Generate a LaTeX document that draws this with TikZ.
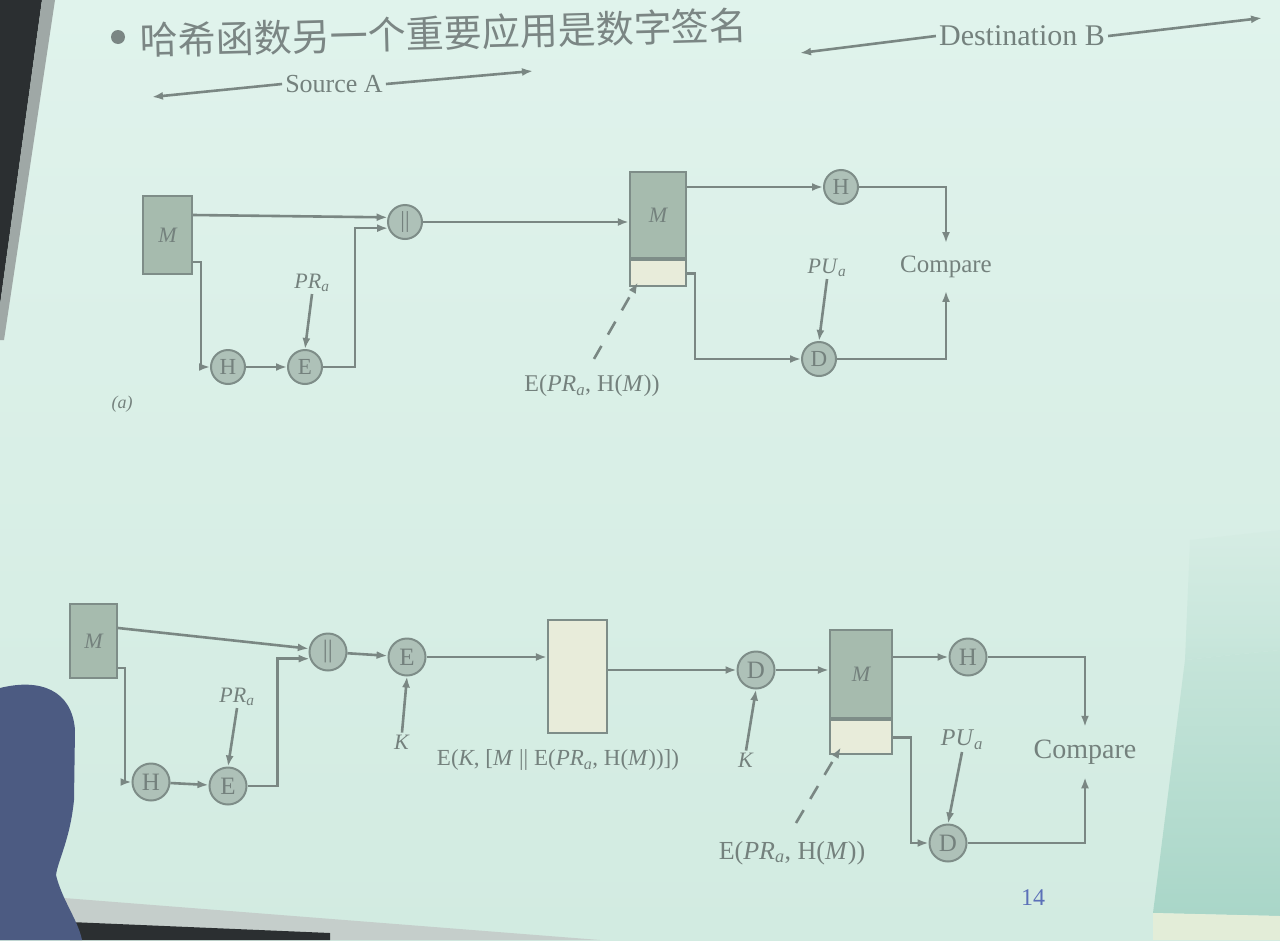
\documentclass[tikz,border=0pt]{standalone}
\usepackage{fontspec}
\setmainfont{Liberation Serif}
\newfontfamily\cjk{Noto Sans CJK SC}
\usetikzlibrary{arrows.meta,calc}
\definecolor{slidebg}{HTML}{D6EDE4}
\definecolor{slidetop}{HTML}{E0F3EC}
\definecolor{slidebot}{HTML}{D2EBE1}
\definecolor{linec}{HTML}{7A8783}
\definecolor{nodeb}{HTML}{7E8D88}
\definecolor{nodef}{HTML}{AEC1B8}
\definecolor{msgf}{HTML}{A6BBAE}
\definecolor{sigf}{HTML}{E8ECDA}
\definecolor{txt}{HTML}{74817D}
\definecolor{titlec}{HTML}{7B8684}
\definecolor{pagec}{HTML}{5B70B8}
\definecolor{framec}{HTML}{2B2F31}
\definecolor{edgec}{HTML}{9FA8A6}
\definecolor{headc}{HTML}{4C5B82}
\definecolor{cornerc}{HTML}{A9D6C8}
\definecolor{bandc}{HTML}{C5CECB}
\definecolor{warmc}{HTML}{E3EDD8}
\begin{document}
\begin{tikzpicture}[x=1pt,y=-1pt,
  arr/.style={draw=linec, line width=2.6pt, -{Latex[length=11pt,width=8pt]}},
  leader/.style={arr, dash pattern=on 15pt off 13pt},
  op/.style={circle, draw=nodeb, fill=nodef, line width=2pt, minimum size=34pt,
    inner sep=0pt, font=\fontsize{23}{23}\selectfont, text=txt},
  opb/.style={op, minimum size=37pt, font=\fontsize{25}{25}\selectfont},
  msgbox/.style={draw=nodeb, fill=msgf, line width=2.2pt, inner sep=0pt,
    font=\fontsize{22}{22}\selectfont\itshape, text=txt},
  sigbox/.style={draw=nodeb, fill=sigf, line width=2.2pt, inner sep=0pt},
  lbl/.style={font=\fontsize{22}{22}\selectfont, text=txt, inner sep=2pt},
  hdr/.style={font=\fontsize{26}{26}\selectfont, text=txt, inner sep=3pt},
  cmp/.style={font=\fontsize{25}{25}\selectfont, text=txt, inner sep=3pt, outer sep=10pt}
]
\useasboundingbox (0,0) rectangle (1280,940);
\clip (0,0) rectangle (1280,940);

% slide surface and surroundings
\shade[top color=slidetop, bottom color=slidebot] (0,0) rectangle (1280,940);
\fill[framec] (0,0) -- (42,0) -- (0,305) -- cycle;
\fill[edgec] (42,0) -- (55,0) -- (4,340) -- (0,340) -- (0,305) -- cycle;
\shade[top color=slidebot, bottom color=cornerc, opacity=0.35]
  (1190,540) -- (1280,530) -- (1280,650) -- (1185,660) -- cycle;
\shade[top color=slidebot!70!cornerc, bottom color=cornerc]
  (1185,660) -- (1280,650) -- (1280,916) -- (1153,913) -- cycle;
\fill[bandc] (0,893) -- (600,940) -- (0,940) -- cycle;
\fill[framec] (70,922) -- (330,933) -- (330,940) -- (70,940) -- cycle;
\fill[warmc] (1153,913) -- (1280,916) -- (1280,940) -- (1153,940) -- cycle;
\fill[headc] (0,688) .. controls (40,678) and (72,690) .. (75,730)
  -- (74,800) .. controls (70,840) and (58,860) .. (56,875)
  .. controls (62,900) and (78,920) .. (82,940) -- (0,940) -- cycle;

% slide title
\fill[titlec] (118,37) circle (7);
\node[anchor=base west, inner sep=0pt, rotate=1.5, text=titlec,
  font=\cjk\fontsize{38}{38}\selectfont] (title) at (140,55)
  {哈希函数另一个重要应用是数字签名};

% party headers
\node[hdr] (srcA) at (334,84) {Source A};
\coordinate (srcL) at (152,97);
\coordinate (srcR) at (533,71);
\draw[arr] (srcA.west) -- (srcL);
\draw[arr] (srcA.east) -- (srcR);
\node[hdr, font=\fontsize{30}{30}\selectfont] (dstB) at (1022,36) {Destination B};
\coordinate (dstL) at (800,53);
\coordinate (dstR) at (1262,18);
\draw[arr] (dstB.west) -- (dstL);
\draw[arr] (dstB.east) -- (dstR);

% ---------------- (a) ----------------
\node[msgbox, minimum width=49pt, minimum height=78pt] (mA) at (167.5,235) {M};
\node[op] (catA) at (405,222) {||};
\node[op] (hA) at (228,367) {H};
\node[op] (eA) at (305,367) {E};
\node[lbl] (prA) at (312,283) {\textit{PR}\textsubscript{\textit{a}}};

\node[msgbox, minimum width=56pt, minimum height=86pt] (mdA) at (658,215) {M};
\node[sigbox, minimum width=56pt, minimum height=26pt, anchor=north] (sdA) at (mdA.south) {};
\node[lbl, font=\fontsize{24}{24}\selectfont] (sigA) at (592,386) {E(\textit{PR}\textsubscript{\textit{a}}, H(\textit{M}))};
\node[op] (hdA) at (841,187) {H};
\node[op] (ddA) at (819,359) {D};
\node[lbl] (puA) at (827,268) {\textit{PU}\textsubscript{\textit{a}}};
\node[cmp] (cmpA) at (946,267) {Compare};
\node[lbl, font=\fontsize{18}{18}\selectfont\itshape] (lblA) at (122,404) {(a)};

\draw[arr] ([yshift=20pt]mA.east) -- (catA.165);
\draw[arr] ([yshift=-27pt]mA.east) -- ++(8,0) |- (hA.west);
\draw[arr] (hA) -- (eA);
\draw[arr] (prA.south) -- (eA.north);
\draw[arr] (eA.east) -- ++(32,0) |- (catA.200);
\draw[arr] (catA.east) -- (catA -| mdA.west);
\draw[arr] (mdA.east |- hdA) -- (hdA.west);
\draw[arr] (hdA.east) -| (cmpA.north);
\draw[arr] (puA.south) -- (ddA.north);
\draw[arr] (sdA.east) -- ++(8,0) |- (ddA.west);
\draw[arr] (ddA.east) -| (cmpA.south);
\draw[leader] ([xshift=2pt,yshift=14pt]sigA.north) -- ($(sdA.south west)+(9,-5)$);

% ---------------- (b) ----------------
\node[msgbox, minimum width=47pt, minimum height=74pt] (mB) at (93.5,641) {M};
\node[opb] (catB) at (328,652) {||};
\node[opb] (hB) at (151,782) {H};
\node[opb] (eB) at (228,786) {E};
\node[lbl] (prB) at (237,697) {\textit{PR}\textsubscript{\textit{a}}};
\node[opb] (e2B) at (407,657) {E};
\node[lbl] (kB) at (402,742) {\textit{K}};
\node[sigbox, minimum width=59pt, minimum height=113pt] (ctB) at (577.5,676.5) {};
\node[lbl, font=\fontsize{23}{23}\selectfont] (ctxt) at (558,760)
  {E(\textit{K}, [\textit{M} || E(\textit{PR}\textsubscript{\textit{a}}, H(\textit{M}))])};
\node[opb] (dB) at (756,670) {D};
\node[lbl] (k2B) at (746,760) {\textit{K}};

\node[msgbox, minimum width=62pt, minimum height=88pt] (mdB) at (861,674) {M};
\node[sigbox, minimum width=62pt, minimum height=34pt, anchor=north] (sdB) at (mdB.south) {};
\node[lbl, font=\fontsize{26}{26}\selectfont] (sigB) at (792,853) {E(\textit{PR}\textsubscript{\textit{a}}, H(\textit{M}))};
\node[opb] (hdB) at (968,657) {H};
\node[opb] (ddB) at (948,843) {D};
\node[lbl, font=\fontsize{24}{24}\selectfont] (puB) at (962,740) {\textit{PU}\textsubscript{\textit{a}}};
\node[cmp, font=\fontsize{28}{28}\selectfont] (cmpB) at (1085,752) {Compare};

\draw[arr] ([yshift=13pt]mB.east) -- (catB.170);
\draw[arr] ([yshift=-27pt]mB.east) -- ++(7,0) |- (hB.west);
\draw[arr] (hB) -- (eB);
\draw[arr] (prB.south) -- (eB.north);
\draw[arr] (eB.east) -- ++(30,0) |- (catB.200);
\draw[arr] (catB) -- (e2B);
\draw[arr] (kB.north) -- (e2B.south);
\draw[arr] (e2B.east) -- (e2B -| ctB.west);
\draw[arr] (ctB.east |- dB) -- (dB.west);
\draw[arr] (k2B.north) -- (dB.south);
\draw[arr] (dB.east) -- (dB -| mdB.west);
\draw[arr] (mdB.east |- hdB) -- (hdB.west);
\draw[arr] (hdB.east) -| (cmpB.north);
\draw[arr] (puB.south) -- (ddB.north);
\draw[arr] (sdB.east) -- ++(18,0) |- (ddB.west);
\draw[arr] (ddB.east) -| (cmpB.south);
\draw[leader] ([xshift=4pt,yshift=16pt]sigB.north) -- ($(sdB.south west)+(12,-8)$);

% page number
\node[font=\fontsize{24}{24}\selectfont, text=pagec] (page) at (1033,898) {14};
\end{tikzpicture}
\end{document}
